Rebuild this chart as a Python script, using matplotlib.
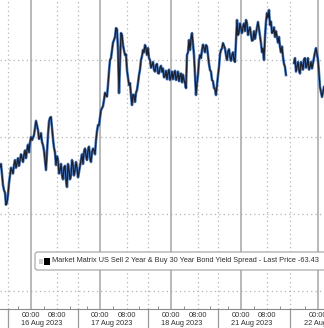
import numpy as np
import matplotlib
matplotlib.use("Agg")
import matplotlib.pyplot as plt
from matplotlib.patches import FancyBboxPatch, Rectangle
from matplotlib.transforms import blended_transform_factory

# ---- data (chart position on trading-time axis, spread in bp) ----
# main readings
pos_a = [0, 2, 4, 6, 8, 10, 12, 14, 17, 20, 22, 24, 27, 30, 32, 33, 35, 36, 38, 40,
         42, 43, 45, 46, 48, 50, 51, 52, 54, 56, 58, 60, 62, 64, 66, 67, 69, 71, 73, 75,
         77, 79, 81, 84, 86, 88, 90, 92, 94, 96, 98, 100, 102, 104, 106, 108, 110, 112, 114, 116,
         118, 119, 121, 123, 125, 127, 129, 131, 132, 134, 135, 137, 139, 141, 143, 145, 147, 148, 150, 152,
         154, 156, 158, 160, 162, 165, 168, 171, 174, 177, 180, 184, 186, 187, 189, 190, 192, 194, 196, 198,
         200, 202, 204, 206, 208, 210, 212, 214, 216, 219, 221, 223, 226, 228, 230, 232, 234, 235, 237, 239,
         241, 243, 246, 249, 251, 253, 256, 258, 261, 264, 267, 269, 270, 273, 277, 280, 283, 285, 286]
spread_a = [-64.78, -64.99, -65.38, -65.76, -65.50, -64.99, -64.86, -64.73, -64.67, -64.60,
            -64.54, -64.47, -64.34, -64.15, -64.08, -64.02, -63.76, -63.58, -63.82, -64.02,
            -64.13, -64.21, -64.60, -64.86, -63.95, -63.50, -63.48, -63.76, -64.28, -64.73,
            -64.60, -64.86, -64.99, -64.80, -65.12, -65.30, -64.86, -64.99, -64.73, -64.86,
            -64.80, -64.91, -64.60, -64.39, -64.49, -64.34, -64.54, -64.39, -64.34, -64.08,
            -63.69, -63.50, -63.25, -63.04, -62.91, -62.65, -62.00, -61.74, -61.48, -61.17,
            -61.74, -62.86, -61.30, -61.61, -61.87, -62.26, -62.65, -62.91, -63.17, -62.91,
            -63.09, -62.78, -62.39, -62.00, -61.74, -61.61, -61.87, -61.69, -62.00, -62.13,
            -62.26, -62.13, -62.34, -62.21, -62.31, -62.41, -62.34, -62.44, -62.36, -62.44,
            -62.41, -62.52, -62.73, -61.87, -61.48, -61.74, -61.30, -61.87, -62.91, -62.39,
            -61.87, -61.74, -61.69, -61.61, -61.87, -62.26, -62.52, -62.73, -62.91, -62.18,
            -61.74, -61.56, -61.87, -61.79, -61.92, -61.87, -62.00, -62.05, -60.96, -61.27,
            -61.17, -61.14, -60.96, -61.22, -61.35, -61.48, -61.30, -61.01, -61.56, -62.00,
            -60.78, -60.70, -61.09, -61.27, -61.40, -61.66, -61.92, -62.18, -62.39]
# intermediate wiggles
pos_w = [1, 3, 5, 7, 9, 11, 13, 15, 16, 18, 19, 21, 23, 25, 26, 28, 29, 31, 34, 37,
         39, 41, 44, 47, 49, 53, 55, 57, 59, 61, 63, 65, 68, 70, 72, 74, 76, 78, 80, 82,
         83, 85, 87, 89, 91, 93, 95, 97, 99, 101, 103, 105, 107, 109, 111, 113, 115, 117, 120, 122,
         124, 126, 128, 130, 133, 136, 138, 140, 142, 144, 146, 149, 151, 153, 155, 157, 159, 161, 163, 164,
         166, 167, 169, 170, 172, 173, 175, 176, 178, 179, 181, 182, 183, 185, 188, 191, 193, 195, 197, 199,
         201, 203, 205, 207, 209, 211, 213, 215, 217, 218, 220, 222, 225, 227, 229, 231, 233, 238, 240, 242,
         244, 245, 247, 248, 250, 252, 254, 255, 257, 259, 260, 262, 263, 265, 266, 268, 271, 272, 274, 275,
         276, 278, 279, 281, 282, 284]
spread_w = [-64.70, -65.25, -65.45, -65.70, -65.20, -64.80, -64.95, -64.60, -64.80, -64.55,
            -64.75, -64.45, -64.65, -64.35, -64.55, -64.20, -64.40, -64.00, -63.95, -63.70,
            -64.05, -63.90, -64.35, -64.40, -63.60, -64.05, -64.40, -64.50, -64.95, -64.70,
            -65.10, -64.75, -64.70, -65.10, -64.60, -65.00, -64.65, -65.05, -64.75, -64.45,
            -64.70, -64.30, -64.60, -64.25, -64.65, -64.30, -64.45, -63.85, -63.70, -63.30,
            -63.20, -62.85, -62.95, -62.30, -61.95, -61.55, -61.40, -61.20, -62.10, -61.35,
            -61.75, -61.85, -62.45, -62.60, -62.90, -62.85, -62.60, -62.25, -61.90, -61.80,
            -61.70, -61.95, -62.20, -62.05, -62.30, -62.10, -62.35, -62.15, -62.22, -62.45,
            -62.28, -62.50, -62.25, -62.52, -62.30, -62.50, -62.28, -62.52, -62.30, -62.55,
            -62.35, -62.58, -62.38, -62.60, -61.80, -61.45, -61.60, -62.40, -62.60, -62.00,
            -61.95, -61.60, -61.80, -61.65, -62.10, -62.30, -62.55, -62.75, -62.65, -62.40,
            -61.85, -61.70, -61.70, -62.00, -61.72, -62.02, -61.80, -61.35, -61.05, -61.30,
            -61.05, -61.25, -61.05, -61.35, -61.15, -61.50, -61.25, -61.45, -61.15, -61.20,
            -61.40, -61.80, -61.70, -61.40, -61.00, -60.90, -61.00, -61.30, -61.15, -61.40,
            -61.25, -61.55, -61.40, -61.80, -61.65, -62.10]
# 22 Aug session (after the data gap)
pos_b = [294, 295, 296, 297, 298, 299, 300, 301, 302, 303, 304, 305, 306, 307, 308, 309,
         310, 311, 312, 313, 314, 315, 316, 317, 318, 320, 322, 324]
spread_b = [-62.08, -61.95, -62.30, -62.18, -62.05, -62.26, -62.35, -62.05, -62.13, -62.25,
            -61.98, -61.95, -62.20, -62.13, -61.95, -62.25, -62.18, -62.05, -62.22, -62.08,
            -61.95, -61.80, -61.69, -61.85, -62.00, -62.70, -62.96, -62.70]

day_start_pos = [31, 100, 171, 241, 318]
hour8_pos = [57, 127, 198, 267]
session_end_pos = [8, 78, 148, 218, 290]
date_pos = [42, 112, 182, 252, 325]
date_labels = ["16 Aug 2023", "17 Aug 2023", "18 Aug 2023", "21 Aug 2023", "22 Aug 2023"]
y_grid = [-62, -64, -66, -68]
legend_text = "Market Matrix US Sell 2 Year & Buy 30 Year Bond Yield Spread - Last Price -63.43"

# ---- figure ----
W, H = 324, 328
fig = plt.figure(figsize=(W / 100, H / 100), dpi=100)
ax_bottom_px = 309
ax = fig.add_axes([0, (H - ax_bottom_px) / H, 1, ax_bottom_px / H])
ax.set_xlim(0, 324)
ax.set_ylim(-68.47, -60.44)

grid_c = "#b4b4b4"
for y in y_grid:
    ax.axhline(y, color=grid_c, lw=0.9, ls=(0, (1, 2.5)), zorder=1)
for x in day_start_pos:
    ax.axvline(x, color="#a6a6a6", lw=1.1, zorder=1)
for x in hour8_pos + session_end_pos:
    ax.axvline(x, color=grid_c, lw=0.9, ls=(0, (1, 2.5)), zorder=1)

order = np.argsort(pos_a + pos_w)
xa = np.array(pos_a + pos_w, dtype=float)[order]
ya = np.array(spread_a + spread_w, dtype=float)[order]
x_all = np.concatenate([xa, [np.nan], pos_b])
y_all = np.concatenate([ya, [np.nan], spread_b])
ax.plot(x_all, y_all, color="#4a7cc4", lw=1.9, zorder=3)
ax.plot(x_all, y_all, color="#1b1f2e", lw=0.9, zorder=4)

for s in ["top", "left", "right"]:
    ax.spines[s].set_visible(False)
ax.spines["bottom"].set_color("#8c8c8c")
ax.spines["bottom"].set_linewidth(0.8)
ax.set_yticks([])
ax.set_xticks([])

minor = []
for d in day_start_pos:
    minor += [d - 13, d + 13, d + 39]
ax.set_xticks(sorted(set(m for m in minor if 0 < m < 324)), minor=True)
ax.tick_params(axis="x", which="minor", direction="in", length=2.5, color="#8c8c8c", width=0.7)

# labels below
tr = blended_transform_factory(ax.transData, fig.transFigure)
fs = 5.35
fam = ["Liberation Sans", "DejaVu Sans"]
tc = "#303030"
for d in day_start_pos:
    ax.text(d, 1 - 315.5 / H, "00:00", transform=tr, ha="center", va="center",
            fontsize=fs, color=tc, family=fam)
for h in hour8_pos:
    ax.text(h, 1 - 315.5 / H, "08:00", transform=tr, ha="center", va="center",
            fontsize=fs, color=tc, family=fam)
for p, lab in zip(date_pos, date_labels):
    ax.text(p, 1 - 323.5 / H, lab, transform=tr, ha="center", va="center",
            fontsize=fs, color=tc, family=fam)
for x in session_end_pos:
    ax.plot([x, x], [0, (H - ax_bottom_px) / H], transform=tr, color="#9a9a9a",
            lw=0.9, clip_on=False)

# legend box
box = FancyBboxPatch((35 / W, 1 - 270 / H), 300 / W, 18 / H,
                     boxstyle="round,pad=0,rounding_size=0.008",
                     transform=fig.transFigure, facecolor="white",
                     edgecolor="#a0a0a0", lw=0.8, zorder=10)
fig.patches.append(box)
fig.patches.append(Rectangle((38.5 / W, 1 - 264 / H), 4 / W, 5 / H, transform=fig.transFigure,
                             facecolor="#cfcfcf", edgecolor="none", zorder=11))
fig.patches.append(Rectangle((44 / W, 1 - 265 / H), 6 / W, 7 / H, transform=fig.transFigure,
                             facecolor="#000000", edgecolor="none", zorder=11))
fig.text(52 / W, 1 - 261 / H, legend_text, fontsize=fs, color=tc, family=fam,
         ha="left", va="center", zorder=12)

fig.savefig("out.png", dpi=100, facecolor="white")
